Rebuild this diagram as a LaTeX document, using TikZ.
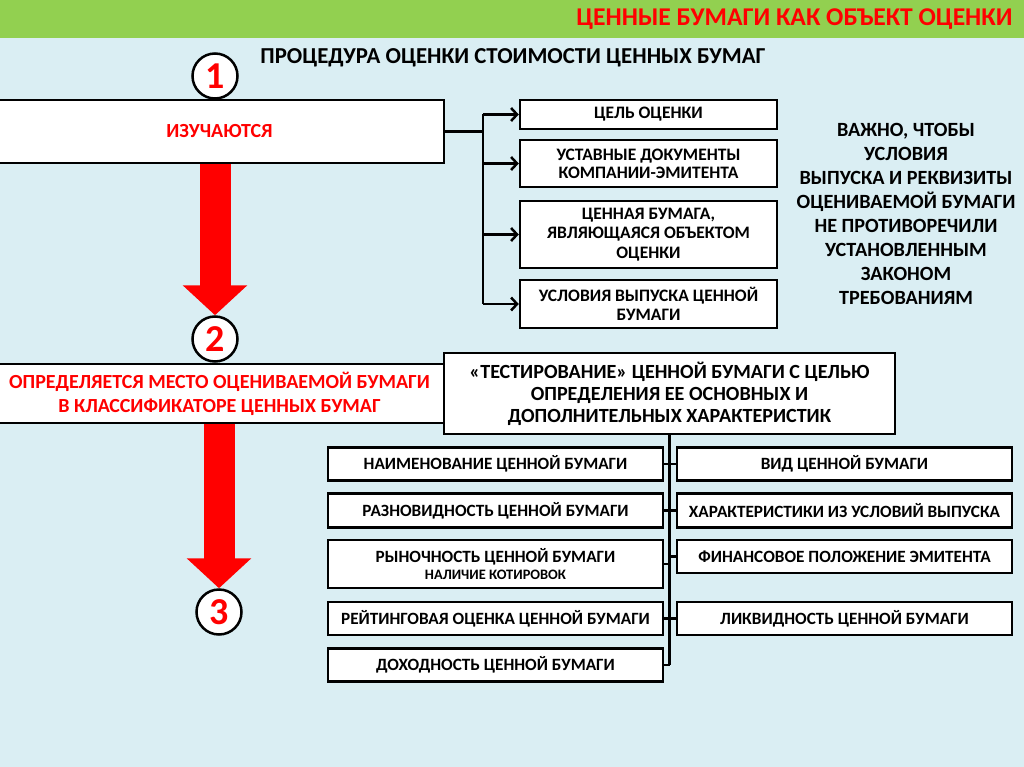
\documentclass[tikz,border=0pt]{standalone}
\usepackage{fontspec}
\setmainfont{Carlito}
\usetikzlibrary{arrows.meta}
\definecolor{leafgreen}{HTML}{92D050}
\definecolor{skyback}{HTML}{DAEEF3}
\definecolor{alarm}{HTML}{FF0000}
\newcommand{\fs}[2]{\fontsize{#1}{#2}\selectfont\bfseries}
\tikzset{
  box/.style={draw,line width=2.5pt,fill=white,align=center,inner sep=1pt},
  num/.style={circle,draw,line width=2.5pt,fill=white,minimum size=45pt,inner sep=0pt,text=alarm,font=\fs{38}{38}},
  conn/.style={line width=2.5pt},
  bigarrow/.style={alarm,line width=31pt,-{Triangle[length=30pt,width=63pt]}}
}
\begin{document}
\begin{tikzpicture}[x=1pt,y=-1pt]
\useasboundingbox (0,0) rectangle (1024,767);
\fill[skyback] (0,0) rectangle (1024,767);
\fill[leafgreen] (0,0) rectangle (1024,38);
\node[anchor=east,text=alarm,font=\fs{25.6}{28}] (title) at (1016,19) {ЦЕННЫЕ БУМАГИ КАК ОБЪЕКТ ОЦЕНКИ};
\node[font=\fs{22.8}{24}] (proc) at (513,58) {ПРОЦЕДУРА ОЦЕНКИ СТОИМОСТИ ЦЕННЫХ БУМАГ};

\node[box,minimum width=449pt,minimum height=63pt,text=alarm,font=\fs{20}{22}] (learn) at (219.5,131.5) {ИЗУЧАЮТСЯ};
\node[num] (c1) at (215,76) {1};
\node[box,minimum width=449pt,minimum height=59pt,text=alarm,font=\fs{20}{24}] (place) at (219.5,393.5) {ОПРЕДЕЛЯЕТСЯ МЕСТО ОЦЕНИВАЕМОЙ БУМАГИ\\В КЛАССИФИКАТОРЕ ЦЕННЫХ БУМАГ};
\node[num] (c2) at (215,339) {2};
\node[num] (c3) at (219,612) {3};
\draw[bigarrow] (c2.north |- learn.south) -- (c2.north);
\draw[bigarrow] (c3.north |- place.south) -- (c3.north);

\node[box,minimum width=257pt,minimum height=29pt,font=\fs{17.5}{18}] (goal) at (648.5,114.5) {ЦЕЛЬ ОЦЕНКИ};
\node[box,minimum width=257pt,minimum height=47pt,font=\fs{17.5}{18}] (charter) at (648.5,163.5) {УСТАВНЫЕ ДОКУМЕНТЫ\\КОМПАНИИ-ЭМИТЕНТА};
\node[box,minimum width=257pt,minimum height=67pt,font=\fs{17.5}{19.5}] (object) at (648.5,234.5) {ЦЕННАЯ БУМАГА,\\ЯВЛЯЮЩАЯСЯ ОБЪЕКТОМ\\ОЦЕНКИ};
\node[box,minimum width=257pt,minimum height=48pt,font=\fs{17.5}{18.5}] (terms) at (648.5,304) {УСЛОВИЯ ВЫПУСКА ЦЕННОЙ\\БУМАГИ};
\coordinate (fork) at (483,131.5);
\draw[conn] (learn.east) -- (fork);
\draw[conn] (fork |- goal.west) -- (fork |- terms.west);
\foreach \b in {goal,charter,object,terms}
  \draw[conn,-{Straight Barb[length=6pt,width=13pt]}] (fork |- \b.west) -- (\b.west);

\node[align=center,font=\fs{20.2}{24}] (note) at (906,214) {ВАЖНО, ЧТОБЫ\\УСЛОВИЯ\\ВЫПУСКА И РЕКВИЗИТЫ\\ОЦЕНИВАЕМОЙ БУМАГИ\\НЕ ПРОТИВОРЕЧИЛИ\\УСТАНОВЛЕННЫМ\\ЗАКОНОМ\\ТРЕБОВАНИЯМ};

\node[box,minimum width=451pt,minimum height=81pt,font=\fs{20.1}{22}] (test) at (669.5,393.5) {«ТЕСТИРОВАНИЕ» ЦЕННОЙ БУМАГИ С ЦЕЛЬЮ\\ОПРЕДЕЛЕНИЯ ЕЕ ОСНОВНЫХ И\\ДОПОЛНИТЕЛЬНЫХ ХАРАКТЕРИСТИК};

\node[box,minimum width=335pt,minimum height=33pt,font=\fs{17.2}{18}] (name) at (495.5,464) {НАИМЕНОВАНИЕ ЦЕННОЙ БУМАГИ};
\node[box,minimum width=335pt,minimum height=34pt,font=\fs{17.2}{18}] (variety) at (495.5,510.5) {РАЗНОВИДНОСТЬ ЦЕННОЙ БУМАГИ};
\node[box,minimum width=335pt,minimum height=48pt,font=\fs{17.2}{17}] (market) at (495.5,564) {РЫНОЧНОСТЬ ЦЕННОЙ БУМАГИ\\{\fs{14.4}{15}НАЛИЧИЕ КОТИРОВОК}};
\node[box,minimum width=335pt,minimum height=33pt,font=\fs{17.2}{18}] (rating) at (495.5,618.5) {РЕЙТИНГОВАЯ ОЦЕНКА ЦЕННОЙ БУМАГИ};
\node[box,minimum width=335pt,minimum height=33pt,font=\fs{17.2}{18}] (yield) at (495.5,665) {ДОХОДНОСТЬ ЦЕННОЙ БУМАГИ};

\node[box,minimum width=335pt,minimum height=33pt,font=\fs{17.2}{18}] (kind) at (844.5,464) {ВИД ЦЕННОЙ БУМАГИ};
\node[box,minimum width=335pt,minimum height=34pt,font=\fs{17.2}{18}] (issue) at (844.5,510.5) {ХАРАКТЕРИСТИКИ ИЗ УСЛОВИЙ ВЫПУСКА};
\node[box,minimum width=335pt,minimum height=33pt,font=\fs{17.2}{18}] (finance) at (844.5,556.5) {ФИНАНСОВОЕ ПОЛОЖЕНИЕ ЭМИТЕНТА};
\node[box,minimum width=335pt,minimum height=33pt,font=\fs{17.2}{18}] (liquid) at (844.5,618.5) {ЛИКВИДНОСТЬ ЦЕННОЙ БУМАГИ};

\draw[conn] (test.south) -- (test.south |- yield.east);
\foreach \b in {name,variety,market,rating,yield}
  \draw[conn] (\b.east) -- (\b.east -| test.south);
\foreach \b in {kind,issue,finance,liquid}
  \draw[conn] (test.south |- \b.west) -- (\b.west);
\end{tikzpicture}
\end{document}
